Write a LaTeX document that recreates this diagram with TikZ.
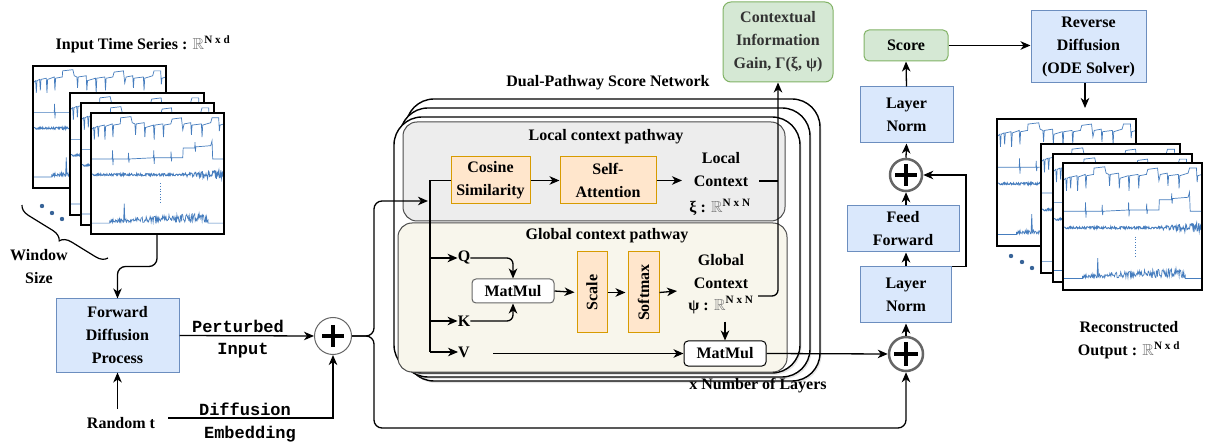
\documentclass[tikz,border=0pt]{standalone}
\usepackage{fontspec}
\usepackage{amssymb}
\usepackage{graphicx}
\setmainfont{Liberation Serif}
\setmonofont{Liberation Mono}
\usetikzlibrary{arrows.meta,decorations.pathreplacing,calc,shadows}

\definecolor{blueFill}{HTML}{DAE8FC}
\definecolor{blueLine}{HTML}{6C8EBF}
\definecolor{greenFill}{HTML}{D5E8D4}
\definecolor{greenLine}{HTML}{82B366}
\definecolor{orangeFill}{HTML}{FFE6CC}
\definecolor{orangeLine}{HTML}{D79B00}
\definecolor{localFill}{HTML}{EDEDED}
\definecolor{globalFill}{HTML}{F8F6EC}
\definecolor{sig}{RGB}{70,125,190}

% real-number space with a superscript shape
\newcommand{\Rsp}[1]{{\color{black!55}$\mathbb{R}$}\textsuperscript{#1}}

% the signals of one window, in a 100 x 100 box (y downwards)
\newcommand{\tssignals}{%
  \draw[sigline] (0,14) -- (2,12) -- (2.5,22) -- (3,12) -- (5,11) -- (5.5,20) -- (6,11)
    -- (10,10) -- (10.5,22) -- (11,11) -- (16,9) -- (16.5,20) -- (17,10) -- (22,9)
    -- (22.3,4) -- (30,3) -- (31,8) -- (33,9) -- (33.5,18) -- (34,9) -- (40,8)
    -- (40.5,20) -- (41,12) -- (47,10) -- (47.5,22) -- (48,10) -- (54,9) -- (54.5,20)
    -- (55,10) -- (60,9) -- (61,5) -- (68,4) -- (69,14) -- (70,9) -- (75,8)
    -- (75.5,18) -- (76,10) -- (83,9) -- (83.5,20) -- (84,10) -- (90,8) -- (91,4)
    -- (96,4) -- (96.5,15) -- (97,10) -- (100,9);
  \draw[sigline] (0,38) -- (16,38) -- (16.2,31) -- (16.5,43) -- (16.8,38) -- (28,38)
    -- (28.2,33) -- (28.5,41) -- (28.8,38) -- (47,37) -- (47.2,31) -- (47.5,42)
    -- (47.8,37) -- (60,37) -- (60.2,32) -- (60.5,40) -- (60.8,37) -- (69,37)
    -- (69.3,29) -- (78,29) -- (78.2,24) -- (78.5,32) -- (78.8,28) -- (90,27)
    -- (91,23) -- (91.5,38) -- (100,38);
  \pgfmathsetseed{11}
  \draw[sigline,line width=0.9pt] plot[domain=0:100,samples=260]
    (\x,{51+(1.0+3.2*(\x>66)*(\x-66)/34)*rand});
  \draw[sigline,dotted,line width=1pt] (52,58) -- (52,74);
  \pgfmathsetseed{23}
  \draw[sigline] (0,91) -- (14,91) -- plot[domain=14:88,samples=200]
    (\x,{90.5-abs(rand)*(2.5+6*(\x-14)/74)}) -- (88,91) -- (100,91);
  \draw[sigline] (24.5,90) -- (25,75) -- (25.5,90);
}

% one framed window: left, top, width, height
\newcommand{\tsframe}[4]{%
  \begin{scope}[shift={(#1,#2)}]
    \pgfmathsetmacro\fw{#3/100}\pgfmathsetmacro\fh{#4/100}
    \fill[white] (0,0) rectangle (#3,#4);
    \begin{scope}[x=\fw pt,y=-\fh pt]
      \clip (0,0) rectangle (100,100);
      \tssignals
    \end{scope}
    \draw[frameline] (0,0) rectangle (#3,#4);
  \end{scope}}

\tikzset{
  arr/.style={line width=1.3pt,-{Stealth[length=10pt,width=8.5pt,inset=3pt]}},
  conn/.style={line width=1.3pt},
  txt/.style={font=\fontsize{16}{23}\selectfont\bfseries,align=center,inner sep=0pt},
  mono/.style={font=\fontsize{17}{19}\selectfont\ttfamily\bfseries,inner sep=0pt},
  bluebox/.style={txt,draw=blueLine,fill=blueFill,line width=1pt},
  greenbox/.style={txt,draw=greenLine,fill=greenFill,line width=1pt,rounded corners=8pt},
  orangebox/.style={txt,draw=orangeLine,fill=orangeFill,line width=1pt},
  mmbox/.style={txt,draw=black!60,fill=white,line width=1pt,rounded corners=4pt},
  sigline/.style={draw=sig,line width=0.7pt},
  frameline/.style={line width=1.5pt},
  layerbox/.style={draw=black,fill=white,line width=1.4pt,rounded corners=28pt,
    drop shadow={opacity=0.2,shadow xshift=1.5pt,shadow yshift=-2pt}},
  pathbox/.style={draw=black!70,line width=1pt,rounded corners=14pt},
  plusring/.style={circle,fill=white,inner sep=0pt},
  plusbar/.style={line width=3.5pt},
}

\begin{document}
\begin{tikzpicture}[x=1pt,y=-1pt]
\useasboundingbox (0,0) rectangle (1205,446);
\fill[white] (0,0) rectangle (1205,446);

% ---------- input windows ----------
\node[txt] (ttlIn) at (143,44) {Input Time Series : \Rsp{N x d}};
\tsframe{33}{66}{133}{122}
\tsframe{70}{93}{134}{122}
\tsframe{81}{103}{133}{122}
\tsframe{91}{113}{133}{121}
\foreach \px/\py in {42/206,52/213,62/219} \fill[sig!80!black] (\px,\py) circle (2.2);
\draw[line width=1.2pt,decorate,decoration={brace,amplitude=11pt}] (108,258) -- (22,205);
\node[txt] (win) at (39,267) {Window\\Size};

% ---------- forward diffusion ----------
\node[bluebox,minimum width=123pt,minimum height=73pt] (fwd) at (117.5,335.5)
  {Forward\\Diffusion\\Process};
\node[txt] (rnd) at (121,423) {Random t};
\node[mono] (lblPert) at (238,326) {Perturbed};
\node[mono] (lblIn) at (243,351) {Input};
\node[mono] (lblDiff) at (245,409) {Diffusion};
\node[mono] (lblEmb) at (250,434) {Embedding};

\node[plusring,draw=black!60,line width=1pt,minimum size=37pt] (p1) at (333,336) {};
\draw[plusbar] (322,336) -- (344,336) (333,325) -- (333,347);

% ---------- score network stack ----------
\node[txt] (ttlNet) at (608,83) {Dual-Pathway Score Network};
\draw[layerbox] (406,99) rectangle (820,381);
\draw[layerbox] (400,108) rectangle (810,377);
\draw[layerbox] (394,117) rectangle (800,373);
\draw[pathbox,fill=localFill] (403,122) rectangle (785,221);
\draw[pathbox,fill=globalFill] (398,223) rectangle (787,372);
\node[txt] (ttlLocal) at (606,137) {Local context pathway};
\node[txt] (ttlGlobal) at (607,236) {Global context pathway};
\node[txt] (layers) at (758,386) {x Number of Layers};

\node[orangebox,minimum width=79pt,minimum height=47pt] (cos) at (490.5,180.5)
  {Cosine\\Similarity};
\node[orangebox,minimum width=96pt,minimum height=47pt] (selfatt) at (608,180.5)
  {Self-\\Attention};
\node[txt] (lctx) at (721,170) {Local\\Context};
\node[txt] (xi) at (720,207) {ξ : \Rsp{N x N}};

\node[txt] (Q) at (464,258) {Q};
\node[txt] (K) at (464,321) {K};
\node[txt] (V) at (464,352) {V};
\node[mmbox,minimum width=82pt,minimum height=24pt] (mm1) at (513,291) {MatMul};
\node[orangebox,minimum width=30pt,minimum height=81pt] (scale) at (592,292.5)
  {\rotatebox{90}{Scale}};
\node[orangebox,minimum width=31pt,minimum height=81pt] (softmax) at (643.5,292.5)
  {\rotatebox{90}{Softmax}};
\node[txt] (gctx) at (721,272) {Global\\Context};
\node[txt] (psi) at (721,305) {ψ : \Rsp{N x N}};
\node[mmbox,draw=black,minimum width=82pt,minimum height=25pt] (mm2) at (725,353.5) {MatMul};

\node[greenbox,minimum width=110pt,minimum height=80pt,text=black!80] (cig) at (778,42)
  {Contextual\\Information\\Gain, Γ(ξ, ψ)};

% ---------- output block ----------
\node[plusring,draw=black!60,line width=2.5pt,minimum size=34pt] (p2) at (906,354) {};
\draw[plusbar,line width=4pt] (894,354) -- (918,354) (906,342) -- (906,366);
\node[bluebox,minimum width=91pt,minimum height=56pt] (lnA) at (906,295) {Layer\\Norm};
\node[bluebox,minimum width=112pt,minimum height=46pt] (ff) at (903,229) {Feed\\Forward};
\node[plusring,draw=black!60,line width=2.5pt,minimum size=32pt] (p3) at (906,175) {};
\draw[plusbar,line width=4pt] (895,175) -- (917,175) (906,164) -- (906,186);
\node[bluebox,minimum width=93pt,minimum height=56pt] (lnB) at (906.5,115) {Layer\\Norm};
\node[greenbox,rounded corners=5pt,minimum width=84pt,minimum height=31pt] (score) at (906,45.5) {Score};
\node[bluebox,minimum width=115pt,minimum height=72pt] (rev) at (1088.5,47)
  {Reverse\\Diffusion\\(ODE Solver)};

% ---------- reconstructed windows ----------
\tsframe{997}{119}{139}{127}
\tsframe{1041}{144}{139}{129}
\tsframe{1053}{154}{139}{128}
\tsframe{1063}{163}{139}{127}
\foreach \px/\py in {1011/256,1022/262,1032/268} \fill[sig!80!black] (\px,\py) circle (2.2);
\node[txt] (ttlOut) at (1129,340) {Reconstructed\\Output : \Rsp{N x d}};

% ---------- connectors ----------
\coordinate (inFrameOut) at (157,234);
\draw[arr,rounded corners=8pt] (inFrameOut) |- ($(fwd.north)+(0,-32)$) -- (fwd.north);
\coordinate (rndTop) at (117.5,409);
\draw[arr] (rndTop) -- (fwd.south);
\draw[arr] (fwd.east) -- (p1.west);
\coordinate (rndOut) at (168,418);
\draw[arr] (rndOut) -| (p1.south);

\coordinate (splitA) at (374,336);
\coordinate (netIn) at (428,201);
\coordinate (botRun) at (374,428);
\draw[arr,rounded corners=8pt] (p1.east) -- (splitA) |- (netIn);
\draw[arr,rounded corners=8pt] (p1.east) -- (splitA) -- (botRun) -| (p2.south);

\coordinate (spineTop) at (430,180.5);
\coordinate (spineBot) at (430,352);
\draw[conn] (cos.west) -- (spineTop) -- (spineBot);
\draw[arr] (spineTop |- Q) -- (Q.west);
\draw[arr] (spineTop |- K) -- (K.west);
\draw[arr] (spineBot) -- (V.west);

\draw[arr] (cos.east) -- (selfatt.west);
\coordinate (lctxIn) at (682,180.5);
\draw[arr] (selfatt.east) -- (lctxIn);
\coordinate (lctxOut) at (759,181);
\coordinate (gctxOut) at (758,296);
\draw[conn] (lctxOut) -- (lctxOut -| cig.south);
\draw[arr,rounded corners=6pt] (gctxOut) -| (cig.south);

\draw[arr,rounded corners=6pt] (Q.east) -| (mm1.north);
\draw[arr,rounded corners=6pt] (K.east) -| (mm1.south);
\draw[arr,shorten >=2pt] (mm1.east) -- (scale.west);
\draw[arr,shorten >=2pt] (scale.east) -- (softmax.west);
\coordinate (gctxIn) at (677,291);
\draw[arr] (softmax.east) -- (gctxIn);
\draw[arr] (psi.south -| mm2.north) ++(0,8) -- (mm2.north);
\coordinate (vOut) at (493,353.5);
\draw[arr] (vOut) -- (mm2.west);
\draw[arr] (mm2.east) -- (p2.west);

\draw[arr] (p2.north) -- (lnA.south);
\draw[arr] (lnA.north) -- (lnA.north |- ff.south);
\draw[arr] (lnA.north |- ff.north) -- (p3.south);
\draw[arr] (p3.north) -- (lnB.south);
\draw[arr] (lnB.north) -- (score.south);
\draw[arr] (lnA.north east) -- ++(14,0) |- (p3.east);
\draw[arr] (score.east) -- (score.east -| rev.west);
\coordinate (outFrameIn) at (1085,108);
\draw[arr] (rev.south -| outFrameIn) -- (outFrameIn);
\end{tikzpicture}
\end{document}
